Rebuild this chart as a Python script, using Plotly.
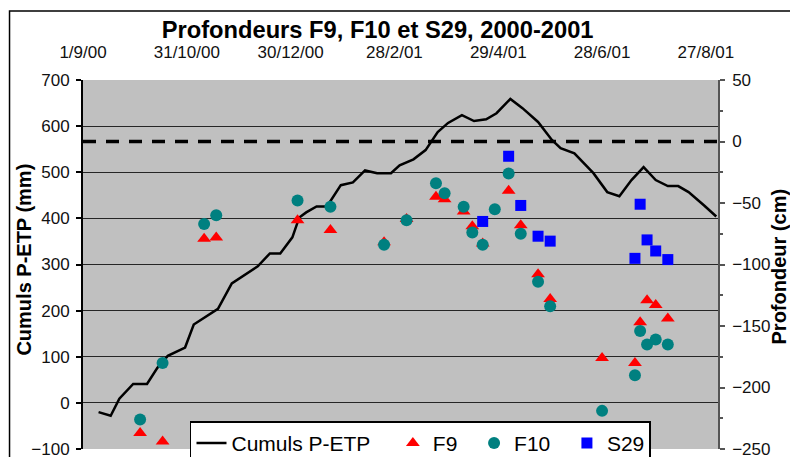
import plotly.graph_objects as go

# Cumulative P-ETP (mm), left axis
cum_dates = [
    "2000-09-10", "2000-09-17", "2000-09-22", "2000-09-30", "2000-10-08", "2000-10-14",
    "2000-10-20", "2000-10-30", "2000-11-04", "2000-11-18", "2000-11-26", "2000-12-11",
    "2000-12-18", "2000-12-24", "2000-12-31", "2001-01-04", "2001-01-08", "2001-01-14",
    "2001-01-20", "2001-01-28", "2001-02-04", "2001-02-11", "2001-02-18", "2001-02-26",
    "2001-03-03", "2001-03-11", "2001-03-18", "2001-03-25", "2001-03-31", "2001-04-08",
    "2001-04-15", "2001-04-22", "2001-04-28", "2001-05-06", "2001-05-13", "2001-05-22",
    "2001-05-30", "2001-06-04", "2001-06-12", "2001-06-23", "2001-07-01", "2001-07-08",
    "2001-07-15", "2001-07-22", "2001-07-29", "2001-08-05", "2001-08-11", "2001-08-17",
    "2001-08-26", "2001-09-02",
]
cum_pept = [
    -20, -28, 9, 41, 41, 76,
    102, 120, 170, 204, 259, 296,
    324, 324, 359, 402, 413, 426,
    426, 472, 478, 504, 498, 498,
    515, 528, 548, 587, 607, 624,
    611, 615, 628, 659, 639, 609,
    570, 552, 541, 498, 457, 448,
    483, 511, 483, 470, 470, 457,
    428, 404,
]

# Water-table depth (cm), right axis
piezo_dates = [
    "2000-10-04", "2000-10-17", "2000-11-10", "2000-11-17", "2001-01-03", "2001-01-22",
    "2001-02-22", "2001-03-07", "2001-03-24", "2001-03-29", "2001-04-09", "2001-04-14",
    "2001-04-20", "2001-04-27", "2001-05-05", "2001-05-12", "2001-05-22", "2001-05-29",
    "2001-06-28", "2001-07-17", "2001-07-20", "2001-07-24", "2001-07-29", "2001-08-05",
]
f9 = [
    -237, -244, -79, -78, -64, -72,
    -82, -63, -45, -47, -57, -69,
    -83, None, -40, -68, -108, -128,
    -176, -180, -147, -129, -133, -144,
]
f10 = [
    -226, -180, -67, -60, -48, -53,
    -84, -64, -34, -42, -53, -74,
    -84, -55, -26, -75, -114, -134,
    -219, -190, -154, -165, -161, -165,
]
s29_dates = [
    "2001-04-20", "2001-05-05", "2001-05-12", "2001-05-22", "2001-05-29",
    "2001-07-17", "2001-07-20", "2001-07-24", "2001-07-29", "2001-08-05",
]
s29 = [-65, -12, -52, -77, -81, -95, -51, -80, -89, -96]

FONT = "Liberation Sans, Arial, sans-serif"
NBSP = "\u00a0"

fig = go.Figure()
fig.add_trace(go.Scatter(
    x=cum_dates, y=cum_pept, mode="lines", name="Cumuls P-ETP" + NBSP * 3,
    line=dict(color="black", width=2.5), yaxis="y",
))
fig.add_trace(go.Scatter(
    x=piezo_dates, y=f9, mode="markers", name="F9" + NBSP * 2,
    marker=dict(symbol="triangle-up", size=12, color="#FF0000"), yaxis="y2",
))
fig.add_trace(go.Scatter(
    x=piezo_dates, y=f10, mode="markers", name="F10" + NBSP * 2,
    marker=dict(symbol="circle", size=12, color="#008080"), yaxis="y2",
))
fig.add_trace(go.Scatter(
    x=s29_dates, y=s29, mode="markers", name="S29",
    marker=dict(symbol="square", size=11, color="#0000FF"), yaxis="y2",
))

# ground-level reference (depth 0)
fig.add_shape(type="line", xref="paper", x0=0, x1=1, yref="y2", y0=0, y1=0,
              line=dict(color="black", width=3.5, dash="13px,10px"))
# chart frame
fig.add_shape(type="rect", xref="paper", yref="paper",
              x0=-0.1157, x1=1.3, y0=-0.2, y1=1.187,
              line=dict(color="black", width=1.5), layer="below")

fig.add_annotation(text="<b>Cumuls P-ETP (mm)</b>", xref="paper", yref="paper",
                   x=-0.0921, y=0.512, xanchor="center", yanchor="middle",
                   textangle=-90, showarrow=False,
                   font=dict(family=FONT, size=20, color="black"))
fig.add_annotation(text="<b>Profondeur (cm)</b>", xref="paper", yref="paper",
                   x=1.0976, y=0.4946, xanchor="center", yanchor="middle",
                   textangle=-90, showarrow=False,
                   font=dict(family=FONT, size=20, color="black"))

fig.update_layout(
    width=790, height=457,
    margin=dict(l=83, r=72, t=80, b=8, autoexpand=False),
    paper_bgcolor="white", plot_bgcolor="#C0C0C0",
    font=dict(family=FONT, color="black"),
    title=dict(text="<b>Profondeurs F9, F10 et S29, 2000-2001</b>",
               x=0.478, xref="container", xanchor="center",
               y=0.935, yref="container", yanchor="middle",
               font=dict(family=FONT, size=23.7, color="black")),
    showlegend=True,
    legend=dict(orientation="h", x=0.1685, y=0.075, xanchor="left", yanchor="top",
                bgcolor="white", bordercolor="black", borderwidth=1.5,
                font=dict(family=FONT, size=21, color="black")),
    xaxis=dict(type="date", side="top",
               range=["2000-09-01", "2001-09-03"],
               tick0="2000-09-01", dtick=60 * 86400000,
               tickformat="%-d/%-m/%y",
               showgrid=False, zeroline=False, showline=False,
               ticks="outside", ticklen=14, tickcolor="rgba(0,0,0,0)",
               tickfont=dict(family=FONT, size=17, color="#111")),
    yaxis=dict(range=[-100, 700], dtick=100, side="left",
               showgrid=True, gridcolor="#262626", gridwidth=1,
               zeroline=True, zerolinecolor="#262626", zerolinewidth=1,
               showline=True, linecolor="black", linewidth=2,
               ticks="outside", ticklen=5, tickcolor="black", tickwidth=1.5,
               ticklabelstandoff=3, ticklabeloverflow="allow",
               tickfont=dict(family=FONT, size=17, color="#111")),
    yaxis2=dict(range=[-250, 50], dtick=50, side="right", overlaying="y",
                showgrid=False, zeroline=False,
                showline=True, linecolor="#555", linewidth=1.5,
                ticks="outside", ticklen=5, tickcolor="#555", tickwidth=1.5,
                minor=dict(dtick=25, ticks="outside", ticklen=3, tickcolor="#555"),
                ticklabelstandoff=4, ticklabeloverflow="allow",
                tickfont=dict(family=FONT, size=17, color="#111")),
)

fig.write_html("out.html")
